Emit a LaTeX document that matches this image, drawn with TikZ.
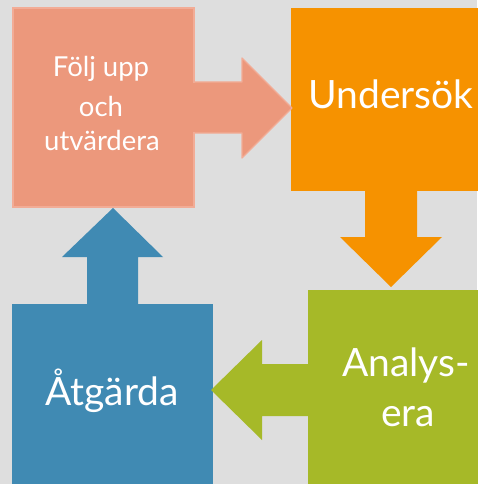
\documentclass[tikz,border=0pt]{standalone}
\usepackage{fontspec}
\setmainfont{Lato}
\definecolor{bg}{RGB}{222,222,222}
\definecolor{salmon}{RGB}{236,152,124}
\definecolor{salmonedge}{RGB}{242,172,150}
\definecolor{orng}{RGB}{246,146,0}
\definecolor{grn}{RGB}{166,185,40}
\definecolor{blu}{RGB}{64,138,179}
\begin{document}
\begin{tikzpicture}[x=1pt,y=-1pt,
  lbl/.style={anchor=base,text=white,inner sep=0pt},
  big/.style={lbl,font=\fontsize{39}{42}\selectfont},
  small/.style={lbl,font=\fontsize{27.5}{30}\selectfont}]
\useasboundingbox (0,0) rectangle (477,484);
\fill[bg] (0,0) rectangle (477,484);
% boxes
\fill[orng] (291,8) rectangle (480,191);
\fill[grn] (308,290) rectangle (480,487);
\fill[blu] (12,304) rectangle (213,487);
% arrows
\fill[orng] (365,190) -- (365,237) -- (340,237) -- (391,287) -- (442,237) -- (417,237) -- (417,190) -- cycle;
\fill[grn] (309,364) -- (262,364) -- (262,340) -- (211,390) -- (262,440) -- (262,416) -- (309,416) -- cycle;
\fill[blu] (87,305) -- (87,257) -- (62,257) -- (113,208) -- (163,257) -- (138,257) -- (138,305) -- cycle;
\filldraw[salmon,draw=salmonedge,line width=1.2pt,line join=round]
  (194,82) -- (242,82) -- (242,58) -- (292,108) -- (242,158) -- (242,133) -- (194,133);
\filldraw[salmon,draw=salmonedge,line width=1.2pt] (13,8) rectangle (194,207);
\fill[salmon] (192,83) rectangle (197,132);
% labels
\node[small] (f1) at (101,77) {Följ upp};
\node[small] (f2) at (101,117) {och};
\node[small] (f3) at (102,150) {utvärdera};
\node[big] (u) at (391,109) {Undersök};
\node[big] (a1) at (406,376) {Analys-};
\node[big] (a2) at (408,426) {era};
\node[big] (t) at (112,405) {Åtgärda};
\end{tikzpicture}
\end{document}
